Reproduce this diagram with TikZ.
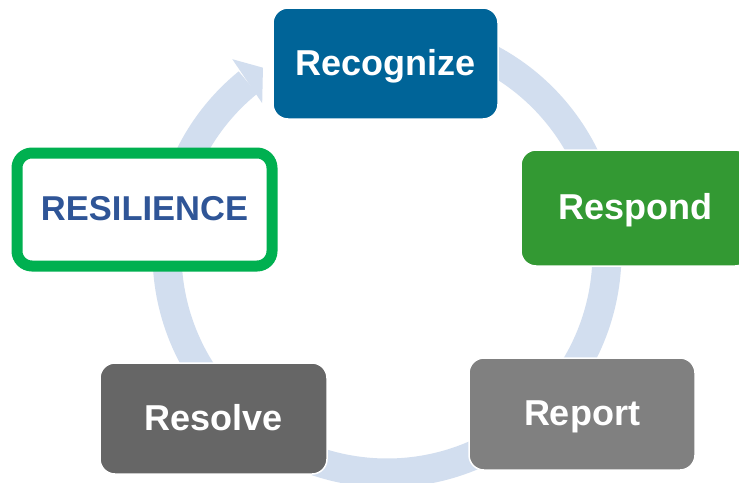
\documentclass[tikz,border=0pt]{standalone}
\usepackage{fontspec}
\setmainfont{Liberation Sans}
\usetikzlibrary{calc}
\definecolor{ringc}{RGB}{210,222,239}
\definecolor{recog}{RGB}{0,100,152}
\definecolor{resp}{RGB}{51,153,51}
\definecolor{resgreen}{RGB}{0,176,80}
\definecolor{resblue}{RGB}{47,85,151}
\definecolor{resolvec}{RGB}{102,102,102}
\definecolor{reportc}{RGB}{128,128,128}
\tikzset{
  stepbox/.style={rounded corners=15pt, draw=white, line width=1.5pt, anchor=center,
    text=white, font=\fontsize{36}{40}\selectfont\bfseries, inner sep=0pt,
    text height=23pt, text depth=0pt},
}
\begin{document}
\begin{tikzpicture}[x=1pt,y=-1pt]
\useasboundingbox (0,0) rectangle (739,482);
\fill[white] (0,0) rectangle (739,482);
\coordinate (C) at (387,253);
% ring shaft
\draw[ringc, line width=29pt] ($(C)+(-129.2:220)$) arc[start angle=-129.2, end angle=-469, radius=220];
% arrow head
\fill[ringc] ($(C)+(-128.6:248)$) -- ($(C)+(-123.8:223)$) -- ($(C)+(-129.8:195)$) -- cycle;
% boxes
\node[stepbox, fill=recog, minimum width=225pt, minimum height=111pt] (recognize) at (385.5,63.5) {Recognize};
\node[stepbox, fill=resp, minimum width=229pt, minimum height=116pt] (respond) at (635.5,208) {Respond};
\node[stepbox, fill=reportc, minimum width=226pt, minimum height=112pt] (report) at (582,414) {Report};
\node[stepbox, fill=resolvec, minimum width=227pt, minimum height=111pt] (resolve) at (213.5,418.5) {Resolve};
\node[rounded corners=15pt, draw=resgreen, fill=white, line width=11pt, anchor=center,
  minimum width=255pt, minimum height=113pt, inner sep=0pt, text=resblue,
  text height=22pt, text depth=0pt,
  font=\fontsize{34.5}{38}\selectfont\bfseries] (resilience) at (144.5,209.5) {RESILIENCE};
\end{tikzpicture}
\end{document}
